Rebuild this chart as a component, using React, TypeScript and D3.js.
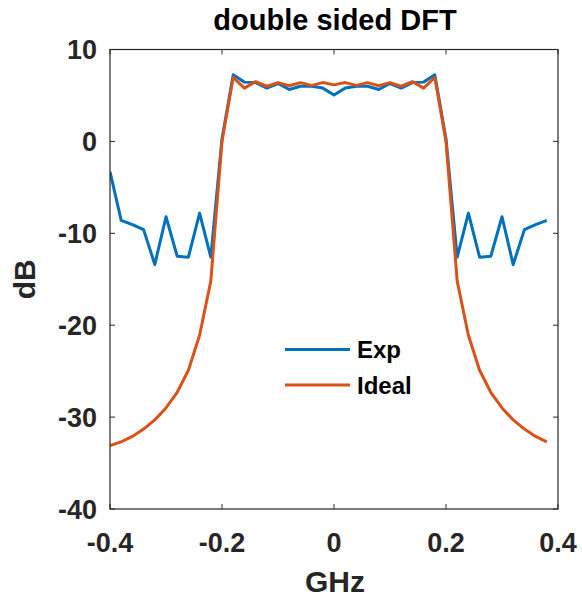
import React from "react";
import * as d3 from "d3";

const freqs = [
  -0.4, -0.38, -0.36, -0.34, -0.32, -0.3, -0.28, -0.26, -0.24, -0.22,
  -0.2, -0.18, -0.16, -0.14, -0.12, -0.1, -0.08, -0.06, -0.04, -0.02,
  0, 0.02, 0.04, 0.06, 0.08, 0.1, 0.12, 0.14, 0.16, 0.18,
  0.2, 0.22, 0.24, 0.26, 0.28, 0.3, 0.32, 0.34, 0.36, 0.38,
];

const expDb = [
  -3.3, -8.6, -9.05, -9.6, -13.4, -8.2, -12.5, -12.6, -7.8, -12.6,
  0.3, 7.25, 6.45, 6.4, 5.8, 6.3, 5.65, 6.0, 6.0, 5.8,
  5.05, 5.8, 6.0, 6.0, 5.65, 6.3, 5.8, 6.4, 6.45, 7.25,
  0.3, -12.6, -7.8, -12.6, -12.5, -8.2, -13.4, -9.6, -9.05, -8.6,
];

const idealDb = [
  -33.1, -32.7, -32.1, -31.3, -30.3, -29.0, -27.3, -24.9, -21.1, -15.2,
  0.0, 6.95, 5.8, 6.5, 6.0, 6.4, 6.05, 6.4, 6.1, 6.4,
  6.15, 6.4, 6.1, 6.4, 6.05, 6.4, 6.0, 6.5, 5.8, 6.95,
  0.0, -15.2, -21.1, -24.9, -27.3, -29.0, -30.3, -31.3, -32.1, -32.7,
];

const xTicks = [-0.4, -0.2, 0, 0.2, 0.4];
const xTickLabels = ["-0.4", "-0.2", "0", "0.2", "0.4"];
const yTicks = [10, 0, -10, -20, -30, -40];
const yTickLabels = ["10", "0", "-10", "-20", "-30", "-40"];

const seriesNames = ["Exp", "Ideal"];
const seriesColors = ["#0072BD", "#D95319"];

const W = 582;
const H = 604;
const left = 110;
const right = 558;
const top = 49.5;
const bottom = 509;
const font = "'Liberation Sans', Arial, Helvetica, sans-serif";
const axisColor = "#262626";

export default function App() {
  const x = d3.scaleLinear().domain([-0.4, 0.4]).range([left, right]);
  const y = d3.scaleLinear().domain([-40, 10]).range([bottom, top]);
  const line = d3
    .line<number>()
    .x((_, i) => x(freqs[i]))
    .y((d) => y(d));

  const series = [expDb, idealDb];
  const tickLen = 5;

  return (
    <svg
      width={W}
      height={H}
      style={{ position: "absolute", left: 0, top: 0, background: "#fff" }}
      fontFamily={font}
    >
      <rect x={0} y={0} width={W} height={H} fill="#fff" />
      <defs>
        <clipPath id="plotclip">
          <rect x={left} y={top} width={right - left} height={bottom - top} />
        </clipPath>
      </defs>
      <g clipPath="url(#plotclip)">
        {series.map((s, k) => (
          <path
            key={k}
            d={line(s) || ""}
            fill="none"
            stroke={seriesColors[k]}
            strokeWidth={3}
            strokeLinejoin="round"
            strokeLinecap="butt"
          />
        ))}
      </g>
      <rect
        x={left}
        y={top}
        width={right - left}
        height={bottom - top}
        fill="none"
        stroke={axisColor}
        strokeWidth={1.2}
      />
      {xTicks.map((t, i) => (
        <g key={"xt" + i}>
          <line x1={x(t)} x2={x(t)} y1={bottom} y2={bottom - tickLen} stroke={axisColor} strokeWidth={1} />
          <line x1={x(t)} x2={x(t)} y1={top} y2={top + tickLen} stroke={axisColor} strokeWidth={1} />
          <text
            x={x(t)}
            y={552}
            textAnchor="middle"
            fontSize={27}
            fontWeight="bold"
            fill={axisColor}
          >
            {xTickLabels[i]}
          </text>
        </g>
      ))}
      {yTicks.map((t, i) => (
        <g key={"yt" + i}>
          <line x1={left} x2={left + tickLen} y1={y(t)} y2={y(t)} stroke={axisColor} strokeWidth={1} />
          <line x1={right} x2={right - tickLen} y1={y(t)} y2={y(t)} stroke={axisColor} strokeWidth={1} />
          <text
            x={97}
            y={y(t) + 9.5}
            textAnchor="end"
            fontSize={27}
            fontWeight="bold"
            fill={axisColor}
          >
            {yTickLabels[i]}
          </text>
        </g>
      ))}
      <text x={335} y={30} textAnchor="middle" fontSize={29} fontWeight="bold" fill="#000">
        double sided DFT
      </text>
      <text x={335} y={592} textAnchor="middle" fontSize={30} fontWeight="bold" fill={axisColor}>
        GHz
      </text>
      <text
        transform={`translate(35, ${(top + bottom) / 2}) rotate(-90)`}
        textAnchor="middle"
        fontSize={30}
        fontWeight="bold"
        fill={axisColor}
      >
        dB
      </text>
      {seriesNames.map((n, k) => {
        const ly = 349.5 + k * 35.5;
        return (
          <g key={"lg" + k}>
            <line x1={285} x2={350} y1={ly} y2={ly} stroke={seriesColors[k]} strokeWidth={3} />
            <text x={357} y={ly + 8.5} fontSize={24} fontWeight="bold" fill="#000">
              {n}
            </text>
          </g>
        );
      })}
    </svg>
  );
}
